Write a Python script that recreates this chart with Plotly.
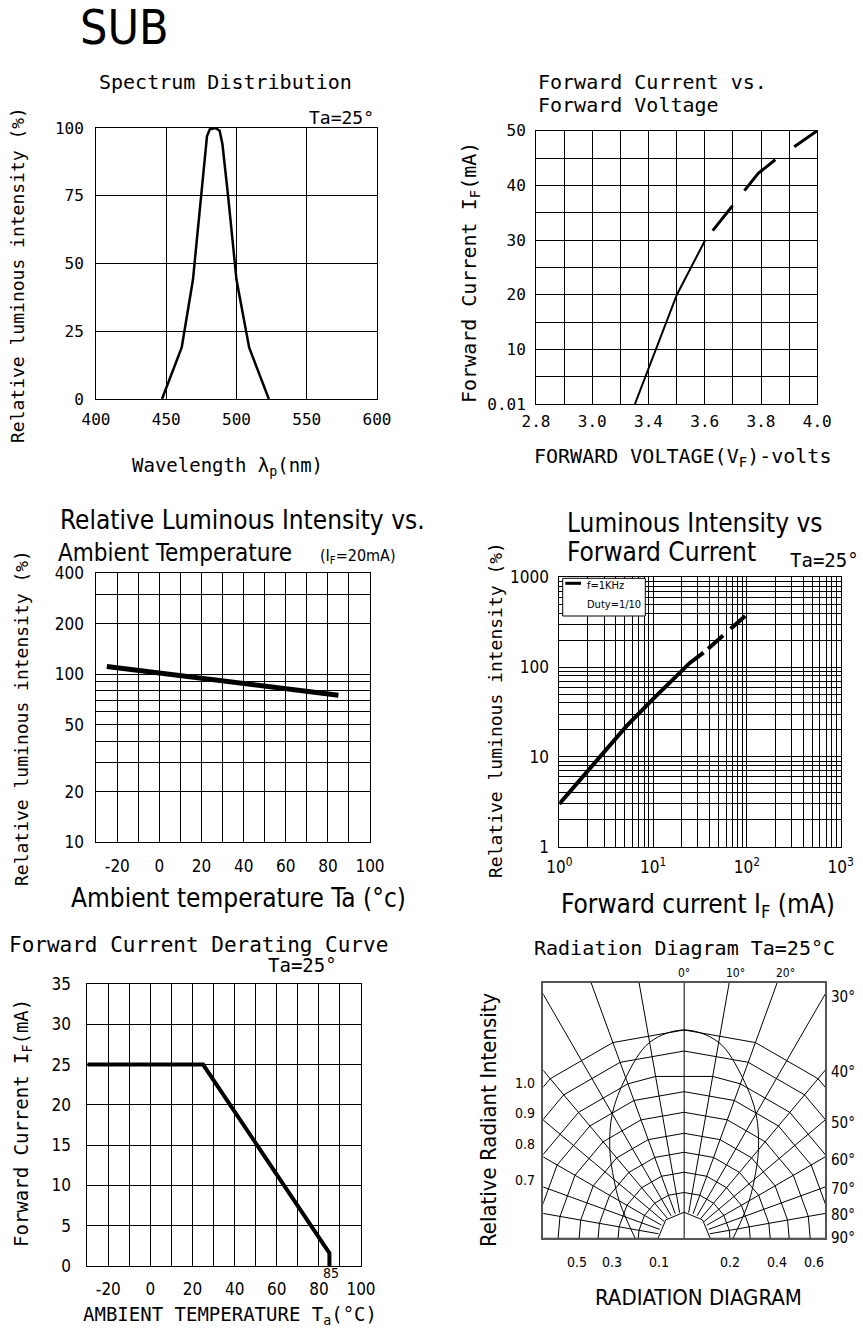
import numpy as np
import plotly.graph_objects as go

W, H = 863, 1329
WIDE = "DejaVu Sans Mono, Liberation Mono, monospace"
NARROW = "Liberation Sans Narrow, DejaVu Sans Condensed, Liberation Sans, Arial, sans-serif"
INK = "#000000"

# ---------------- data ----------------
# Spectrum distribution
spec_wavelength = [447, 461, 469, 475, 479, 481, 485, 488, 490, 494, 500, 509, 523]
spec_intensity = [0, 19, 44, 75, 97, 99.5, 100, 99, 94, 75, 44, 19, 0]
spec_xticks = [400, 450, 500, 550, 600]
spec_xtick_text = ["400", "450", "500", "550", "600"]
spec_yticks = [0, 25, 50, 75, 100]
spec_ytick_text = ["0", "25", "50", "75", "100"]

# Forward current vs forward voltage
ivf_solid_v = [3.222, 3.401, 3.522]
ivf_solid_i = [0, 20, 30]
ivf_dash_v = [3.522, 3.748, 3.815, 4.0]
ivf_dash_i = [30, 42.2, 44.5, 50]
ivf_xtick_vals = [2.8, 2.92, 3.04, 3.16, 3.28, 3.40, 3.52, 3.64, 3.76, 3.88, 4.0]
ivf_xtick_text = ["2.8", "", "3.0", "", "3.4", "", "3.6", "", "3.8", "", "4.0"]
ivf_ytick_vals = [0, 5, 10, 15, 20, 25, 30, 35, 40, 45, 50]
ivf_ytick_text = ["0.01", "", "10", "", "20", "", "30", "", "40", "", "50"]

# Relative luminous intensity vs ambient temperature
lt_temp = [-25, 85]
lt_intensity = [111, 75]
temp_tick_vals = [-20, -10, 0, 10, 20, 30, 40, 50, 60, 70, 80, 90, 100]
temp_tick_text = ["-20", "", "0", "", "20", "", "40", "", "60", "", "80", "", "100"]
lt_ytick_vals = [10, 20, 30, 40, 50, 60, 70, 80, 90, 100, 200, 300, 400]
lt_ytick_text = ["10", "20", "", "", "50", "", "", "", "", "100", "200", "", "400"]

# Luminous intensity vs forward current
lf_current = [1, 2.4, 5.2, 9.9, 24.8, 34.5]
lf_intensity = [3.0, 8.6, 22, 43.8, 112, 145]
lf_dash_current = [34.5, 96]
lf_dash_intensity = [145, 371]
log_grid = [1, 2, 3, 4, 5, 6, 7, 8, 9, 10, 20, 30, 40, 50, 60, 70, 80, 90,
            100, 200, 300, 400, 500, 600, 700, 800, 900, 1000]
decade_text_x = {1: "10<sup>0</sup>", 10: "10<sup>1</sup>", 100: "10<sup>2</sup>", 1000: "10<sup>3</sup>"}
decade_text_y = {1: "1", 10: "10", 100: "100", 1000: "1000"}
lf_xtick_text = [decade_text_x.get(v, "") for v in log_grid]
lf_ytick_text = [decade_text_y.get(v, "") for v in log_grid]

# Forward current derating curve
derate_temp = [-30, 25, 85, 85]
derate_current = [25, 25, 1.6, 0]
dr_ytick_vals = [0, 5, 10, 15, 20, 25, 30, 35]
dr_ytick_text = ["0", "5", "10", "15", "20", "25", "30", "35"]

# Radiation diagram
rad_angle = [-90, -80, -70, -60, -50, -40, -30, -20, -10, 0, 10, 20, 30, 40, 50, 60, 70, 80, 90]
rad_rel = [0.235, 0.26, 0.30, 0.36, 0.44, 0.555, 0.69, 0.82, 0.955, 1.0,
           0.955, 0.82, 0.69, 0.555, 0.44, 0.36, 0.30, 0.26, 0.235]
ray_angles = [-90, -80, -70, -60, -50, -40, -30, -20, -10, 0, 10, 20, 30, 40, 50, 60, 70, 80, 90]
ring_radii = [0.125, 0.22, 0.317, 0.413, 0.504, 0.605, 0.704, 0.789, 0.899, 1.0]
rad_top_labels = ["0°", "10°", "20°"]
rad_right_labels = ["30°", "40°", "50°", "60°", "70°", "80°", "90°"]
rad_left_labels = ["1.0", "0.9", "0.8", "0.7"]
rad_bottom_labels = ["0.5", "0.3", "0.1", "0.2", "0.4", "0.6"]

# ---------------- helpers ----------------
def dx(x0, x1):
    return [x0 / W, x1 / W]


def dy(y0, y1):
    return [1 - y1 / H, 1 - y0 / H]


def axis(**kw):
    base = dict(showline=True, mirror=True, linecolor=INK, linewidth=1,
                showgrid=True, gridcolor=INK, gridwidth=1, zeroline=False,
                ticks="", fixedrange=True, tickmode="array", automargin=False)
    base.update(kw)
    return base


fig = go.Figure()


def text(t, x, y, size, family=WIDE, xa="center", ya="middle", angle=0):
    fig.add_annotation(text=t, x=x / W, y=1 - y / H, xref="paper", yref="paper",
                       showarrow=False, xanchor=xa, yanchor=ya, textangle=angle,
                       font=dict(family=family, size=size, color=INK))


# ---------------- traces ----------------
fig.add_trace(go.Scatter(x=spec_wavelength, y=spec_intensity, mode="lines",
                         line=dict(color=INK, width=2.5), xaxis="x", yaxis="y"))

fig.add_trace(go.Scatter(x=ivf_solid_v, y=ivf_solid_i, mode="lines",
                         line=dict(color=INK, width=2), xaxis="x2", yaxis="y2"))
fig.add_trace(go.Scatter(x=ivf_dash_v, y=ivf_dash_i, mode="lines",
                         line=dict(color=INK, width=3, dash="0px,12px,32px,19px,44px,23px,31px,60px"),
                         xaxis="x2", yaxis="y2"))

fig.add_trace(go.Scatter(x=lt_temp, y=lt_intensity, mode="lines",
                         line=dict(color=INK, width=5), xaxis="x3", yaxis="y3"))

fig.add_trace(go.Scatter(x=lf_current, y=lf_intensity, mode="lines",
                         line=dict(color=INK, width=4), xaxis="x4", yaxis="y4"))
fig.add_trace(go.Scatter(x=lf_dash_current, y=lf_dash_intensity, mode="lines",
                         line=dict(color=INK, width=4, dash="0px,6px,20px,10px,20px,80px"),
                         xaxis="x4", yaxis="y4"))

fig.add_trace(go.Scatter(x=derate_temp, y=derate_current, mode="lines",
                         line=dict(color=INK, width=4), xaxis="x5", yaxis="y5"))


# radiation diagram grid (rays + polygonal rings)
def polar_xy(r, deg):
    t = np.radians(deg)
    return float(r * np.sin(t)), float(r * np.cos(t))


gx, gy = [], []
for a in ray_angles:
    r0 = 0.0 if a == 0 else ring_radii[0]
    x0, y0 = polar_xy(r0, a)
    x1, y1 = polar_xy(2.0, a)
    gx += [x0, x1, None]
    gy += [y0, y1, None]
for i, r in enumerate(ring_radii):
    if i == 0:
        verts = [-90, -45, 0, 45, 90]
    elif i == 7:
        verts = [-90, -80, -60, -40, -20, -10, 10, 20, 40, 60, 80, 90]
    else:
        verts = [-90, -80, -60, -40, -20, 0, 20, 40, 60, 80, 90]
    for v in verts:
        px_, py_ = polar_xy(r, v)
        gx.append(px_)
        gy.append(py_)
    gx.append(None)
    gy.append(None)
fig.add_trace(go.Scatter(x=gx, y=gy, mode="lines", line=dict(color=INK, width=1),
                         xaxis="x6", yaxis="y6"))

rx = [float(r * np.sin(np.radians(a))) for r, a in zip(rad_rel, rad_angle)]
ry = [float(r * np.cos(np.radians(a))) for r, a in zip(rad_rel, rad_angle)]
fig.add_trace(go.Scatter(x=rx, y=ry, mode="lines", line=dict(color=INK, width=1, shape="spline"),
                         xaxis="x6", yaxis="y6"))

# ---------------- layout ----------------
tick_wide = dict(family=WIDE, size=16, color=INK)
tick_narrow = dict(family=NARROW, size=17, color=INK)

fig.update_layout(
    width=W, height=H, autosize=False,
    margin=dict(l=0, r=0, t=0, b=0, pad=0, autoexpand=False),
    paper_bgcolor="white", plot_bgcolor="white", showlegend=False,
    xaxis=axis(domain=dx(96, 377), anchor="y", range=[400, 600], tickvals=spec_xticks,
               ticktext=spec_xtick_text, tickfont=tick_wide, ticklabelstandoff=6),
    yaxis=axis(domain=dy(128, 399), anchor="x", range=[0, 100], tickvals=spec_yticks,
               ticktext=spec_ytick_text, tickfont=tick_wide, ticklabelstandoff=8),
    xaxis2=axis(domain=dx(536, 817.3), anchor="y2", range=[2.8, 4.0], tickvals=ivf_xtick_vals,
                ticktext=ivf_xtick_text, tickfont=tick_wide, ticklabelstandoff=3),
    yaxis2=axis(domain=dy(130.7, 404), anchor="x2", range=[0, 50], tickvals=ivf_ytick_vals,
                ticktext=ivf_ytick_text, tickfont=tick_wide, ticklabelstandoff=6),
    xaxis3=axis(domain=dx(96.3, 370), anchor="y3", range=[-30, 100], tickvals=temp_tick_vals,
                ticktext=temp_tick_text, tickfont=tick_narrow, ticklabelstandoff=8),
    yaxis3=axis(domain=dy(573, 842.3), anchor="x3", type="log", range=[1, float(np.log10(400))],
                tickvals=lt_ytick_vals, ticktext=lt_ytick_text, tickfont=tick_narrow,
                ticklabelstandoff=8),
    xaxis4=axis(domain=dx(559.3, 840.7), anchor="y4", type="log", range=[0, 3],
                tickvals=log_grid, ticktext=lf_xtick_text, tickfont=tick_narrow, ticklabelstandoff=5),
    yaxis4=axis(domain=dy(577.3, 846.7), anchor="x4", type="log", range=[0, 3],
                tickvals=log_grid, ticktext=lf_ytick_text, tickfont=tick_narrow, ticklabelstandoff=6),
    xaxis5=axis(domain=dx(87.3, 361), anchor="y5", range=[-30, 100], tickvals=temp_tick_vals,
                ticktext=temp_tick_text, tickfont=tick_narrow, ticklabelstandoff=8),
    yaxis5=axis(domain=dy(984, 1266), anchor="x5", range=[0, 35], tickvals=dr_ytick_vals,
                ticktext=dr_ytick_text, tickfont=tick_narrow, ticklabelstandoff=12),
    xaxis6=axis(domain=dx(543.3, 825), anchor="y6", range=[-0.676, 0.676], showgrid=False,
                showticklabels=False, linecolor="#555555", linewidth=1.5),
    yaxis6=axis(domain=dy(982.7, 1238.3), anchor="x6", range=[0, 1.227], showgrid=False,
                showticklabels=False, linecolor="#555555", linewidth=1.5),
)

# legend box in panel 4
fig.add_shape(type="rect", xref="paper", yref="paper", x0=562.7 / W, x1=645.3 / W,
              y0=1 - 616 / H, y1=1 - 578.3 / H, line=dict(color=INK, width=1), fillcolor="white")
fig.add_shape(type="line", xref="paper", yref="paper", x0=565.3 / W, x1=581 / W,
              y0=1 - 583.3 / H, y1=1 - 583.3 / H, line=dict(color=INK, width=3))
text("f=1KHz", 585, 585, 11, NARROW, xa="left")
text("Duty=1/10", 585, 604, 11, NARROW, xa="left")

# ---------------- texts ----------------
text("SUB", 124, 27, 48, NARROW)

# panel 1
text("Spectrum Distribution", 225, 82, 20)
text("Ta=25°", 376, 117, 18, xa="right")
text("Relative luminous intensity (%)", 17, 275, 18, angle=-90)
text("Wavelength λ<sub>p</sub>(nm)", 228, 466, 19)

# panel 2
text("Forward Current vs.", 536, 82, 20, xa="left")
text("Forward Voltage", 536, 105, 20, xa="left")
text("Forward Current I<sub>F</sub>(mA)", 470, 273, 20, angle=-90)
text("FORWARD VOLTAGE(V<sub>F</sub>)-volts", 682, 457, 20)

# panel 3
text("Relative Luminous Intensity vs.", 58, 520, 26, NARROW, xa="left")
text("Ambient Temperature", 56, 553, 24, NARROW, xa="left")
text("(I<sub>F</sub>=20mA)", 318, 556, 16, NARROW, xa="left")
text("Relative luminous intensity (%)", 22, 718, 18, angle=-90)
text("Ambient temperature Ta (°c)", 238, 898, 26, NARROW)

# panel 4
text("Luminous Intensity vs", 565, 523, 26, NARROW, xa="left")
text("Forward Current", 565, 552, 26, NARROW, xa="left")
text("Ta=25°", 788, 560, 19, xa="left")
text("Relative luminous intensity (%)", 495, 710, 18, angle=-90)
text("Forward current I<sub>F</sub> (mA)", 698, 905, 26, NARROW)

# panel 5
text("Forward Current Derating Curve", 7, 945, 21, xa="left")
text("Ta=25°", 302, 965, 19)
text("85", 331, 1273, 14, NARROW)
text("AMBIENT TEMPERATURE T<sub>a</sub>(°C)", 230, 1315, 19)
text("Forward Current I<sub>F</sub>(mA)", 22, 1123, 19, angle=-90)

# panel 6
text("Radiation Diagram Ta=25°C", 684, 948, 20)
for lab, x in zip(rad_top_labels, [684, 735, 785]):
    text(lab, x, 973, 12, NARROW)
for lab, y in zip(rad_right_labels, [997, 1072, 1123, 1160, 1189, 1215, 1238]):
    text(lab, 829, y, 15, NARROW, xa="left")
for lab, y in zip(rad_left_labels, [1083, 1113, 1144, 1180]):
    text(lab, 537, y, 14, NARROW, xa="right")
for lab, x in zip(rad_bottom_labels, [577, 612, 659, 730, 777, 814]):
    text(lab, x, 1262, 14, NARROW)
text("RADIATION DIAGRAM", 698, 1297, 22, NARROW)
text("Relative Radiant Intensity", 488, 1120, 22, NARROW, angle=-90)

fig.write_html("out.html", config={"displayModeBar": False, "responsive": False},
               post_script="document.body.style.margin='0';")
